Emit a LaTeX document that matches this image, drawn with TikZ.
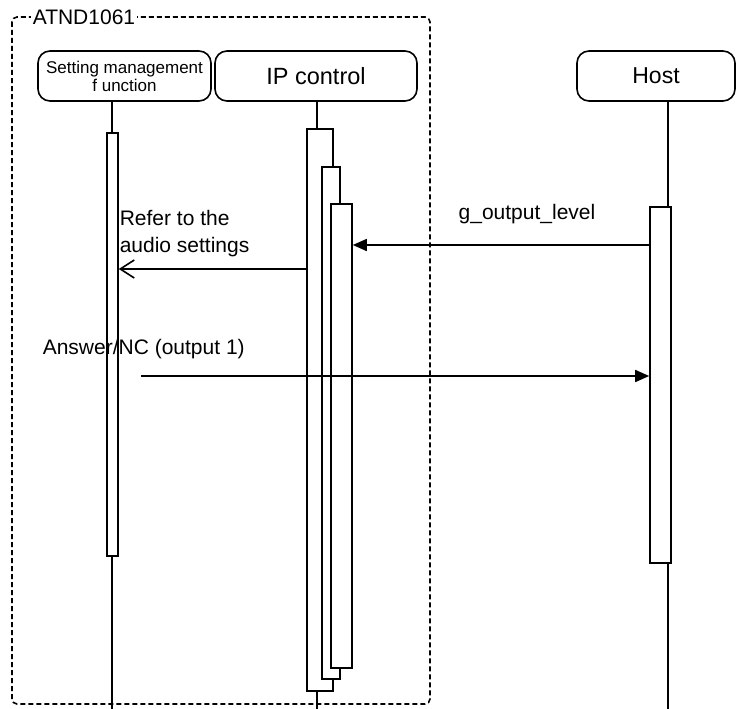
\documentclass[tikz,border=0pt]{standalone}
\usepackage{fontspec}
\setmainfont{Liberation Sans}
\usetikzlibrary{arrows.meta}
\begin{document}
\begin{tikzpicture}[x=1pt,y=-1pt,
  line width=1.6pt,
  head/.style={draw, rounded corners=12pt, minimum height=50pt, inner sep=0pt, font=\fontsize{23.5}{26}\selectfont},
  act/.style={draw, fill=white, inner sep=0pt},
  lbl/.style={font=\fontsize{21}{27}\selectfont, inner sep=0pt},
  frame/.style={draw, dash pattern=on 5pt off 3pt, rounded corners=5pt},
  msg/.style={-{Triangle[length=14pt,width=12pt]}},
  ret/.style={-{Straight Barb[length=14pt,width=18pt]}}]
\useasboundingbox (0,0) rectangle (736,709);
% frame
\draw[frame] (12,17) rectangle (430,704);
\node[lbl, fill=white, inner xsep=2pt, anchor=west] (atnd) at (30,17) {ATND1061};
% heads
\node[head, minimum width=173pt, font=\fontsize{17}{18}\selectfont, align=center] (sm) at (124.5,76) {Setting management\\f unction};
\node[head, minimum width=202pt] (ip) at (316,76) {IP control};
\node[head, minimum width=158pt, font=\fontsize{23}{26}\selectfont] (host) at (656,76) {Host};
% lifeline coordinates
\coordinate (smtop) at (112,101);
\coordinate (smbot) at (112,709);
\coordinate (iptop) at (317,101);
\coordinate (ipbot) at (317,709);
\coordinate (hosttop) at (668,101);
\coordinate (hostbot) at (668,709);
% lifelines
\draw (smtop) -- (smbot);
\draw (iptop) -- (ipbot);
\draw (hosttop) -- (hostbot);
% activations
\node[act, minimum width=11pt, minimum height=423pt] (smact) at (112.5,344.5) {};
\node[act, minimum width=26pt, minimum height=562pt] (ipa) at (320,410) {};
\node[act, minimum width=18pt, minimum height=512pt] (ipb) at (331,423) {};
\node[act, minimum width=21pt, minimum height=464pt] (ipc) at (341.5,436) {};
\node[act, minimum width=21pt, minimum height=356pt] (hostact) at (660.5,385) {};
% messages
\coordinate (y1) at (0,245);
\coordinate (y2) at (0,269);
\coordinate (y3) at (0,376);
\coordinate (ansstart) at (141,376);
\draw[msg] (hostact.west |- y1) -- (ipc.east |- y1);
\node[lbl] (l1) at (527,214) {g\_output\_level};
\draw[ret] (ipa.west |- y2) -- (smact.east |- y2);
\node[lbl, align=left, anchor=west] (l2) at (119,234) {Refer to the\\audio settings};
\draw[msg] (ansstart) -- (hostact.west |- y3);
\node[lbl, anchor=west] (l3) at (42,349) {Answer/NC (output 1)};
\end{tikzpicture}
\end{document}
